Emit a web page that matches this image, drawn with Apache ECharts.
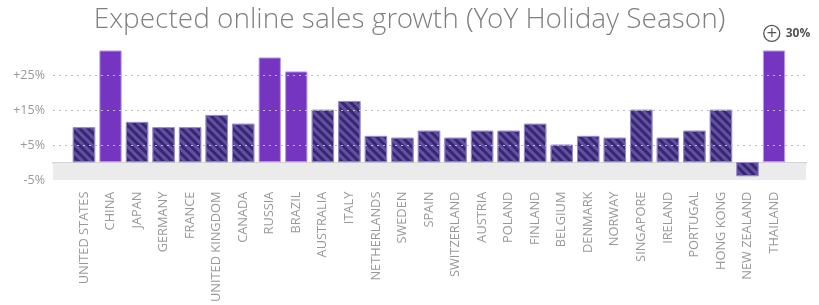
<!DOCTYPE html>
<html>
<head>
<meta charset="utf-8">
<script src="https://cdn.jsdelivr.net/npm/echarts@6/dist/echarts.min.js"></script>
<style>html,body{margin:0;padding:0;background:#fff}#c{width:819px;height:305px}</style>
</head>
<body>
<div id="c"></div>
<script>
var categories = ['UNITED STATES','CHINA','JAPAN','GERMANY','FRANCE','UNITED KINGDOM','CANADA','RUSSIA','BRAZIL','AUSTRALIA','ITALY','NETHERLANDS','SWEDEN','SPAIN','SWITZERLAND','AUSTRIA','POLAND','FINLAND','BELGIUM','DENMARK','NORWAY','SINGAPORE','IRELAND','PORTUGAL','HONG KONG','NEW ZEALAND','THAILAND'];
var growth = [10,32,11.5,10,10,13.5,11,30,26,15,17.5,7.5,7,9,7,9,9,11,5,7.5,7,15,7,9,15,-4,32];
var highlighted = ['CHINA','RUSSIA','BRAZIL','THAILAND'];
var gridTicks = [5,15,25];
var yLabelTicks = [-5,5,15,25];
var annotation = {category:'THAILAND', text:'30%'};
var bandRange = [0,-5];

function hatch(){ return {symbol:'rect', symbolSize:1, color:'#634fa6', dashArrayX:[1,0], dashArrayY:[2.2,3], rotation:Math.PI/4}; }

var barData = growth.map(function(v,i){
  var c = categories[i];
  var item = {value:v};
  if (highlighted.indexOf(c) >= 0) {
    item.itemStyle = {color:'#7535c1', borderColor:'#b89de3', borderWidth:1};
  } else {
    item.itemStyle = {color:'#37286d', borderColor:'#9d8fcc', borderWidth:0.8, decal:hatch()};
  }
  if (c === annotation.category) {
    item.label = {show:true, position:'top', distance:9, offset:[13,0],
      formatter:'{c|+}{v|' + annotation.text + '}',
      rich:{
        c:{width:16,height:16,lineHeight:16,borderRadius:9,borderColor:'#555',borderWidth:1.3,align:'center',fontSize:14,color:'#555',fontFamily:'DejaVu Sans'},
        v:{fontSize:12,fontWeight:'bold',color:'#555',fontFamily:'Open Sans',padding:[0,0,0,6]}
      }};
  }
  return item;
});

var chart = echarts.init(document.getElementById('c'), null, {renderer:'canvas'});
chart.setOption({
  animation:false,
  title:{text:'Expected online sales growth (YoY Holiday Season)', left:'center', top:2,
    textStyle:{fontFamily:'"Open Sans Light", "Lato Light", "Open Sans"', fontWeight:300, fontSize:28, color:'#808080'}},
  grid:[
    {left:70.7, right:31.7, top:40, bottom:125},
    {left:53, right:13, top:40, bottom:125}
  ],
  xAxis:[
    {type:'category', gridIndex:0, data:categories, axisLine:{show:false}, axisTick:{show:false},
     axisLabel:{rotate:90, interval:0, margin:12, fontSize:12.8, color:'#999', fontFamily:'Open Sans'}},
    {type:'category', gridIndex:1, data:['band'], axisLine:{show:true, onZero:true, lineStyle:{color:'#a8a8a8', width:1.5}},
     axisTick:{show:false}, axisLabel:{show:false}}
  ],
  yAxis:[
    {type:'value', gridIndex:0, min:-5, max:35, interval:10, show:false, splitLine:{show:false}},
    {type:'value', gridIndex:1, min:-5, max:35, interval:10, splitLine:{show:false}, axisLine:{show:false}, axisTick:{show:false},
     axisLabel:{margin:8, fontSize:12.5, color:'#999', fontFamily:'Open Sans',
       customValues:yLabelTicks,
       formatter:function(v){ return (v>0?'+':'') + v + '%'; }}}
  ],
  series:[
    {type:'bar', xAxisIndex:1, yAxisIndex:1, data:[bandRange[1]], barWidth:'100%', silent:true,
     itemStyle:{color:'#ebebeb'}, z:1,
     markLine:{silent:true, symbol:'none', label:{show:false},
       lineStyle:{type:[2,4], color:'#bdbdbd', width:1.2},
       data:gridTicks.map(function(t){return {yAxis:t};})}},
    {type:'bar', xAxisIndex:0, yAxisIndex:0, data:barData, barWidth:'84%', z:3}
  ]
});
</script>
</body>
</html>
